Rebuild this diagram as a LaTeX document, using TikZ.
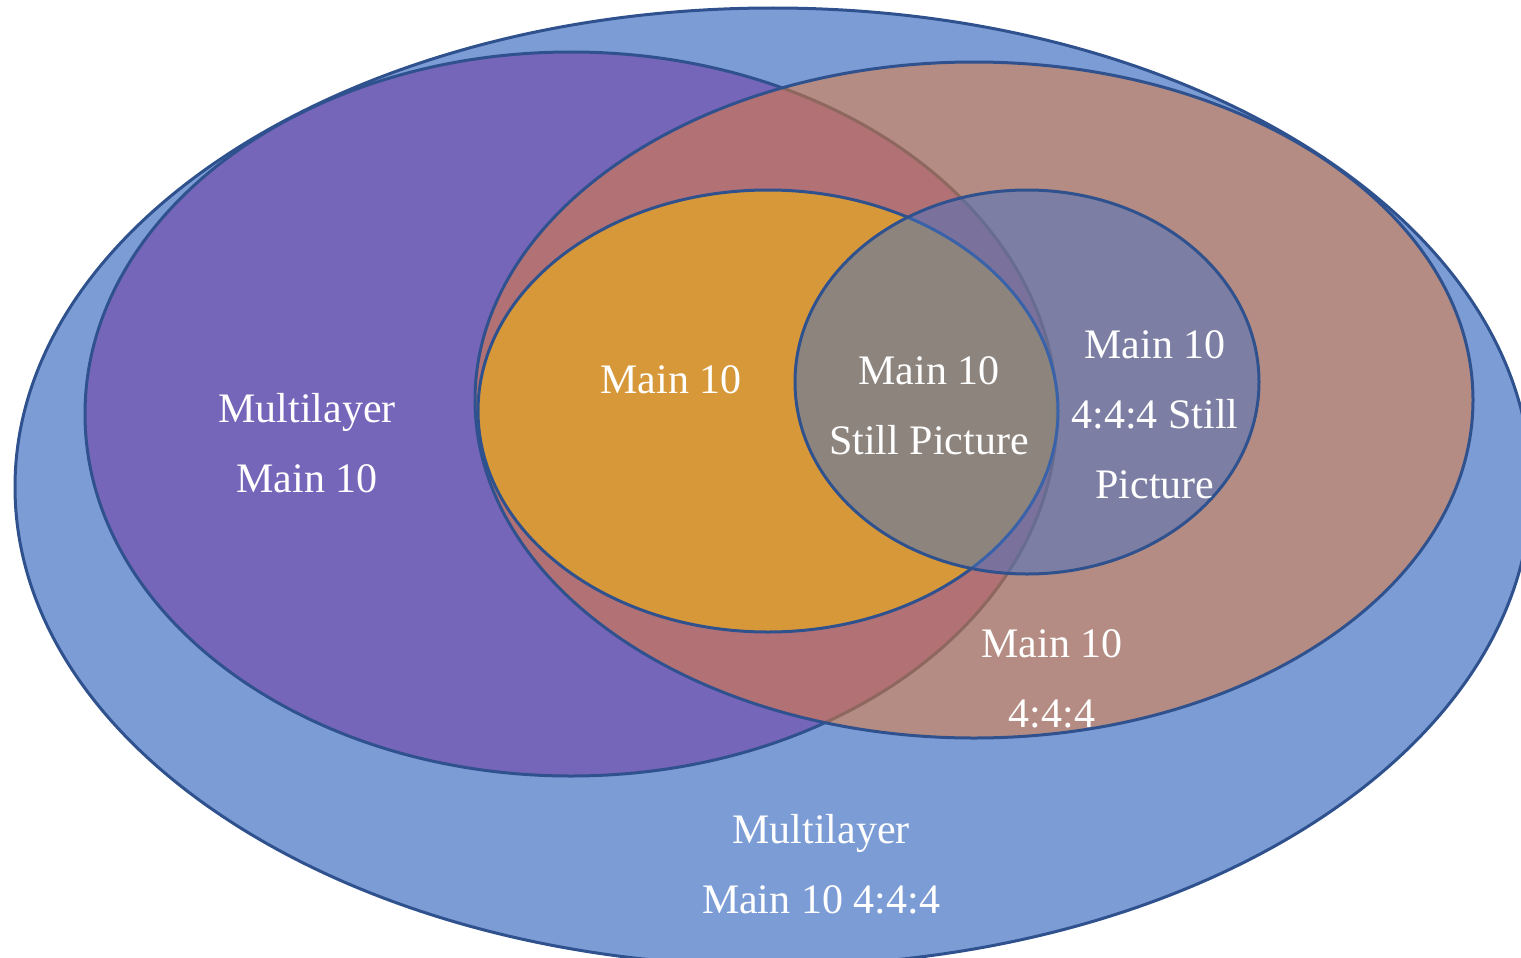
\documentclass[tikz,border=0pt]{standalone}
\usepackage{fontspec}
\setmainfont{Liberation Serif}
\definecolor{edge}{HTML}{2F528F}
\definecolor{setblue}{HTML}{4472C4}
\definecolor{setpurple}{HTML}{7030A0}
\definecolor{setorange}{HTML}{ED7D31}
\definecolor{setgold}{HTML}{FFC000}
\tikzset{
  setshape/.style={draw=edge, line width=3pt, fill opacity=0.5},
  lbl/.style={text=white, align=center, inner sep=0pt,
              font=\fontsize{42}{70}\selectfont},
}
\begin{document}
\begin{tikzpicture}[x=1pt,y=-1pt]
\useasboundingbox (0,0) rectangle (1521,958);
\clip (0,0) rectangle (1521,958);

% profile sets, outermost first
\draw[setshape, fill=setblue, fill opacity=0.7] (773,487) ellipse [x radius=758, y radius=479];
\draw[setshape, fill=setpurple] (571,414) ellipse [x radius=486, y radius=362];
\draw[setshape, fill=setorange] (974,400) ellipse [x radius=499, y radius=338];
\draw[setshape, fill=setgold] (768,411) ellipse [x radius=290, y radius=221];
\draw[setshape, fill=setblue] (1027,382) ellipse [x radius=232, y radius=192];

% labels
\node[lbl] (mlmain) at (307,443) {Multilayer\\Main 10};
\node[lbl] (main) at (671,380) {Main 10};
\node[lbl] (still) at (929,406) {Main 10\\Still Picture};
\node[lbl] (still444) at (1155,415) {Main 10\\4:4:4 Still\\Picture};
\node[lbl] (main444) at (1052,679) {Main 10\\4:4:4};
\node[lbl] (ml444) at (821,864) {Multilayer\\Main 10 4:4:4};
\end{tikzpicture}
\end{document}
